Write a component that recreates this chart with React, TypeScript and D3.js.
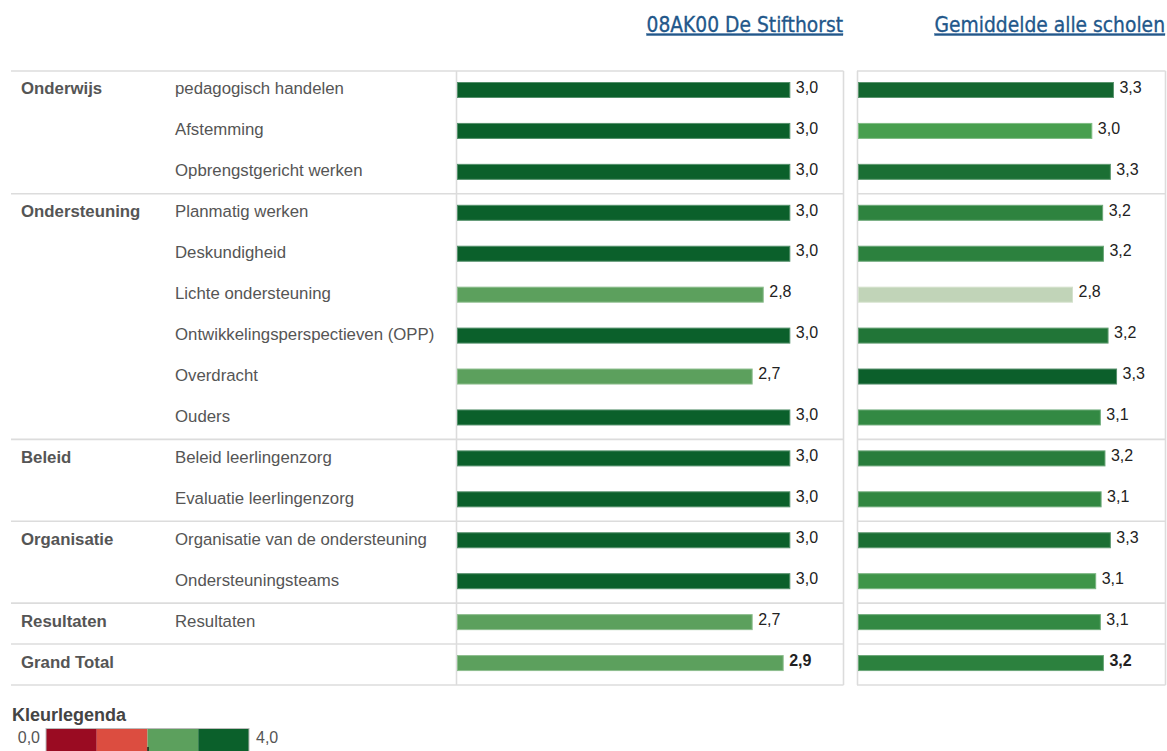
import React from 'react';
import * as d3 from 'd3';

// Rubrieken en indicatoren, één rij per indicator
const groups = ['Onderwijs', 'Ondersteuning', 'Beleid', 'Organisatie', 'Resultaten', 'Grand Total'];
const indicators = [
  'pedagogisch handelen',
  'Afstemming',
  'Opbrengstgericht werken',
  'Planmatig werken',
  'Deskundigheid',
  'Lichte ondersteuning',
  'Ontwikkelingsperspectieven (OPP)',
  'Overdracht',
  'Ouders',
  'Beleid leerlingenzorg',
  'Evaluatie leerlingenzorg',
  'Organisatie van de ondersteuning',
  'Ondersteuningsteams',
  'Resultaten',
  '',
];
const indicatorGroup = [
  'Onderwijs', 'Onderwijs', 'Onderwijs',
  'Ondersteuning', 'Ondersteuning', 'Ondersteuning', 'Ondersteuning', 'Ondersteuning', 'Ondersteuning',
  'Beleid', 'Beleid',
  'Organisatie', 'Organisatie',
  'Resultaten',
  'Grand Total',
];
const schoolValues = [3.0, 3.0, 3.0, 3.0, 3.0, 2.76, 3.0, 2.66, 3.0, 3.0, 3.0, 3.0, 3.0, 2.66, 2.94];
const averageValues = [3.3, 3.02, 3.26, 3.16, 3.17, 2.77, 3.23, 3.34, 3.13, 3.19, 3.14, 3.26, 3.07, 3.13, 3.17];

const schoolTitle = '08AK00 De Stifthorst';
const averageTitle = 'Gemiddelde alle scholen';

const legendTitle = 'Kleurlegenda';
const legendBreaks = [0, 1, 2, 3, 4];
const legendColors = ['#9a0b22', '#dc4d40', '#5ca05d', '#0b602b'];

const W = 1167;
const H = 751;
const FONT = "'Liberation Sans', Arial, sans-serif";
const HEAD_FONT = "'DejaVu Sans Condensed', 'DejaVu Sans', sans-serif";
const GRID = '#dcdcdc';
const TEXT = '#555555';

const fmt = (v: number) => d3.format('.1f')(v).replace('.', ',');

export default function App() {
  const rows = d3.range(indicators.length);

  const y = d3.scaleBand<number>().domain(rows).range([71, 685]);

  const xSchool = d3.scaleLinear().domain([0, 3.48]).range([457.5, 843]);
  const xAvg = d3.scaleLinear().domain([0, 3.98]).range([858.5, 1166]);

  const schoolColor = d3.scaleThreshold<number, string>().domain([1, 2, 3]).range(legendColors);
  const avgColor = d3
    .scaleLinear<string>()
    .domain([2.77, 3.02, 3.34])
    .range(['#c1d4b8', '#489f4f', '#0c5f2b'])
    .clamp(true);

  const legendX = d3.scaleLinear().domain([0, 4]).range([46, 249]);

  // grenzen tussen rubrieken
  const groupStarts = rows.filter(i => i === 0 || indicatorGroup[i] !== indicatorGroup[i - 1]);
  const boundaries = [...groupStarts.map(i => y(i)!), y(rows.length - 1)! + y.bandwidth()];
  const top = boundaries[0];
  const bottom = boundaries[boundaries.length - 1];

  const barH = 15;
  const barOffset = 11.5;

  const edge = (c: string) => d3.interpolateRgb(c, '#ffffff')(0.3);
  const totalGroup = groups[groups.length - 1];

  const panel = (values: number[], x: d3.ScaleLinear<number, number>, color: (v: number) => string, key: string) =>
    rows.map(i => {
      const c = color(values[i]);
      const x1 = x(values[i]);
      const isTotal = indicatorGroup[i] === totalGroup;
      return (
        <g key={key + i}>
          <rect
            x={x(0)}
            y={y(i)! + barOffset}
            width={x1 - x(0)}
            height={barH}
            fill={c}
            stroke={edge(c)}
            strokeWidth={1}
          />
          <text
            x={x1 + 6}
            y={y(i)! + 17.5}
            dominantBaseline="middle"
            fontSize={16}
            fontWeight={isTotal ? 'bold' : 'normal'}
            fill="#222"
          >
            {fmt(values[i])}
          </text>
        </g>
      );
    });

  return (
    <svg
      width={W}
      height={H}
      style={{ position: 'absolute', left: 0, top: 0, background: '#fff' }}
      fontFamily={FONT}
    >
      {/* kopjes */}
      {[
        { t: schoolTitle, x: 843 },
        { t: averageTitle, x: 1165 },
      ].map(h => (
        <text
          key={h.t}
          x={h.x}
          y={31.5}
          textAnchor="end"
          fontFamily={HEAD_FONT}
          fontSize={20.8}
          fill="#22578a"
          stroke="#22578a"
          strokeWidth={0.3}
          style={{ textDecoration: 'underline' }}
        >
          {h.t}
        </text>
      ))}

      {/* rasterlijnen */}
      {boundaries.map((b, i) => (
        <g key={'b' + i}>
          <line x1={11} x2={843.5} y1={b} y2={b} stroke={GRID} strokeWidth={1.6} />
          <line x1={857} x2={1165.5} y1={b} y2={b} stroke={GRID} strokeWidth={1.6} />
        </g>
      ))}
      {[456.5, 843.5, 857.5, 1165.5].map(vx => (
        <line key={'v' + vx} x1={vx} x2={vx} y1={top} y2={bottom} stroke={GRID} strokeWidth={1.6} />
      ))}

      {/* labels */}
      {groupStarts.map(i => (
        <text
          key={'g' + i}
          x={21}
          y={y(i)! + 19}
          dominantBaseline="middle"
          fontSize={16.8}
          fontWeight="bold"
          fill={TEXT}
        >
          {indicatorGroup[i]}
        </text>
      ))}
      {rows.map(i => (
        <text key={'l' + i} x={175} y={y(i)! + 19} dominantBaseline="middle" fontSize={16.8} fill={TEXT}>
          {indicators[i]}
        </text>
      ))}

      {panel(schoolValues, xSchool, v => schoolColor(v), 's')}
      {panel(averageValues, xAvg, v => avgColor(v), 'a')}

      {/* kleurlegenda */}
      <text x={12} y={721} fontSize={18} fontWeight="bold" fill="#444">
        {legendTitle}
      </text>
      <text x={40} y={742.5} textAnchor="end" fontSize={16} fill={TEXT}>
        {fmt(legendBreaks[0])}
      </text>
      {legendColors.map((c, i) => (
        <rect
          key={'lc' + i}
          x={legendX(legendBreaks[i])}
          y={728.5}
          width={legendX(legendBreaks[i + 1]) - legendX(legendBreaks[i])}
          height={24}
          fill={c}
        />
      ))}
      <rect
        x={legendX(0)}
        y={728.5}
        width={legendX(4) - legendX(0)}
        height={24}
        fill="none"
        stroke="#bbbbbb"
        strokeWidth={1}
      />
      <line x1={legendX(2) + 0.5} x2={legendX(2) + 0.5} y1={747} y2={751} stroke="#000" strokeWidth={1.2} />
      <text x={256} y={742.5} fontSize={16} fill={TEXT}>
        {fmt(legendBreaks[legendBreaks.length - 1])}
      </text>
    </svg>
  );
}
